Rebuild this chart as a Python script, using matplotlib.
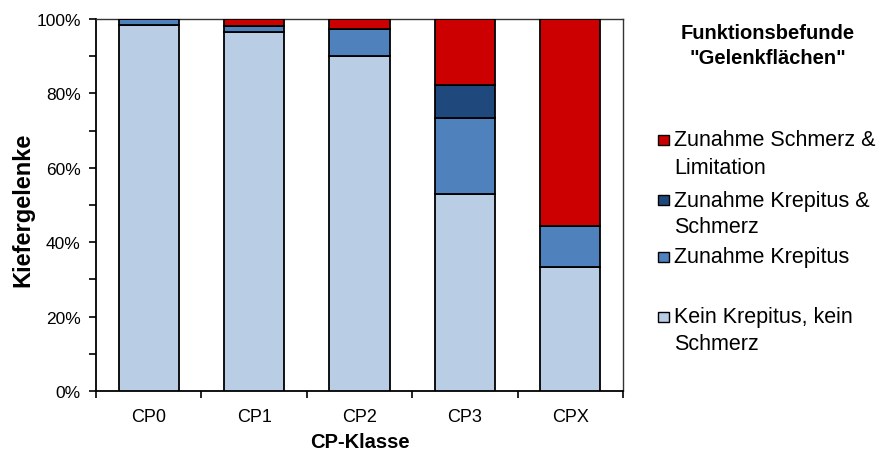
import matplotlib
matplotlib.use("Agg")
import matplotlib.pyplot as plt
from matplotlib.patches import Rectangle
from matplotlib.ticker import MultipleLocator, FixedLocator

plt.rcParams['font.family'] = ['Liberation Sans', 'DejaVu Sans']

# Stacked shares (%) per CP class, bottom to top
categories = ["CP0", "CP1", "CP2", "CP3", "CPX"]
kein = [98.3, 96.4, 90.0, 52.9, 33.3]
krepitus = [1.7, 1.6, 7.4, 20.6, 11.1]
krepitus_schmerz = [0.0, 0.0, 0.0, 8.8, 0.0]
schmerz_limitation = [0.0, 2.0, 2.6, 17.7, 55.6]

series_labels = [
    "Kein Krepitus, kein\nSchmerz",
    "Zunahme Krepitus",
    "Zunahme Krepitus &\nSchmerz",
    "Zunahme Schmerz &\nLimitation",
]
series_values = [kein, krepitus, krepitus_schmerz, schmerz_limitation]
series_colors = ["#B9CDE5", "#4F81BD", "#1F497D", "#CC0000"]

y_ticks = [0, 20, 40, 60, 80, 100]
y_ticklabels = ["0%", "20%", "40%", "60%", "80%", "100%"]

legend_title = 'Funktionsbefunde\n"Gelenkflächen"'

W, H = 888, 452
fig = plt.figure(figsize=(W / 100, H / 100), dpi=100)
ax = fig.add_axes([96 / W, (H - 392) / H, 527 / W, 372 / H])

x = list(range(len(categories)))
bottom = [0.0] * len(categories)
for vals, col in zip(series_values, series_colors):
    ax.bar(x, vals, width=0.57, bottom=bottom, color=col,
           edgecolor="black", linewidth=1.3, zorder=3)
    bottom = [b + v for b, v in zip(bottom, vals)]

ax.set_xlim(-0.5, len(categories) - 0.5)
ax.set_ylim(0, 100)

ax.set_yticks(y_ticks)
ax.set_yticklabels(y_ticklabels, fontsize=12.5)
ax.yaxis.set_minor_locator(MultipleLocator(10))
ax.tick_params(axis="y", which="both", direction="out", length=5, width=1.2, pad=6)

ax.set_xticks(x)
ax.set_xticklabels(categories, fontsize=13)
ax.tick_params(axis="x", which="major", length=0, pad=12)
ax.xaxis.set_minor_locator(FixedLocator([i - 0.5 for i in range(len(categories) + 1)]))
ax.tick_params(axis="x", which="minor", direction="out", length=5, width=1.2)

for side in ("left", "bottom"):
    ax.spines[side].set_color("black")
    ax.spines[side].set_linewidth(1.3)
for side in ("top", "right"):
    ax.spines[side].set_color("#333333")
    ax.spines[side].set_linewidth(1.0)

ax.set_xlabel("CP-Klasse", fontsize=14.5, fontweight="bold", labelpad=5)
ax.set_ylabel("Kiefergelenke", fontsize=17, fontweight="bold")
ax.yaxis.set_label_coords(-0.116, 0.49)

# Legend drawn in figure pixel space, top entry first
fig.text(768 / W, 1 - 46 / H, legend_title, ha="center", va="center",
         fontsize=14.5, fontweight="bold", linespacing=1.4)

entry_y = [318, 258, 201, 141]
line_gap = 27
for lab, col, ey in zip(series_labels, series_colors, entry_y):
    fig.patches.append(Rectangle((658 / W, 1 - (ey + 5) / H), 11 / W, 10 / H,
                                 transform=fig.transFigure, facecolor=col,
                                 edgecolor="black", linewidth=1.0))
    for k, line in enumerate(lab.split("\n")):
        fig.text(674 / W, 1 - (ey + k * line_gap) / H, line, ha="left",
                 va="center", fontsize=15.5)

fig.savefig("out.png", dpi=100, facecolor="white")
